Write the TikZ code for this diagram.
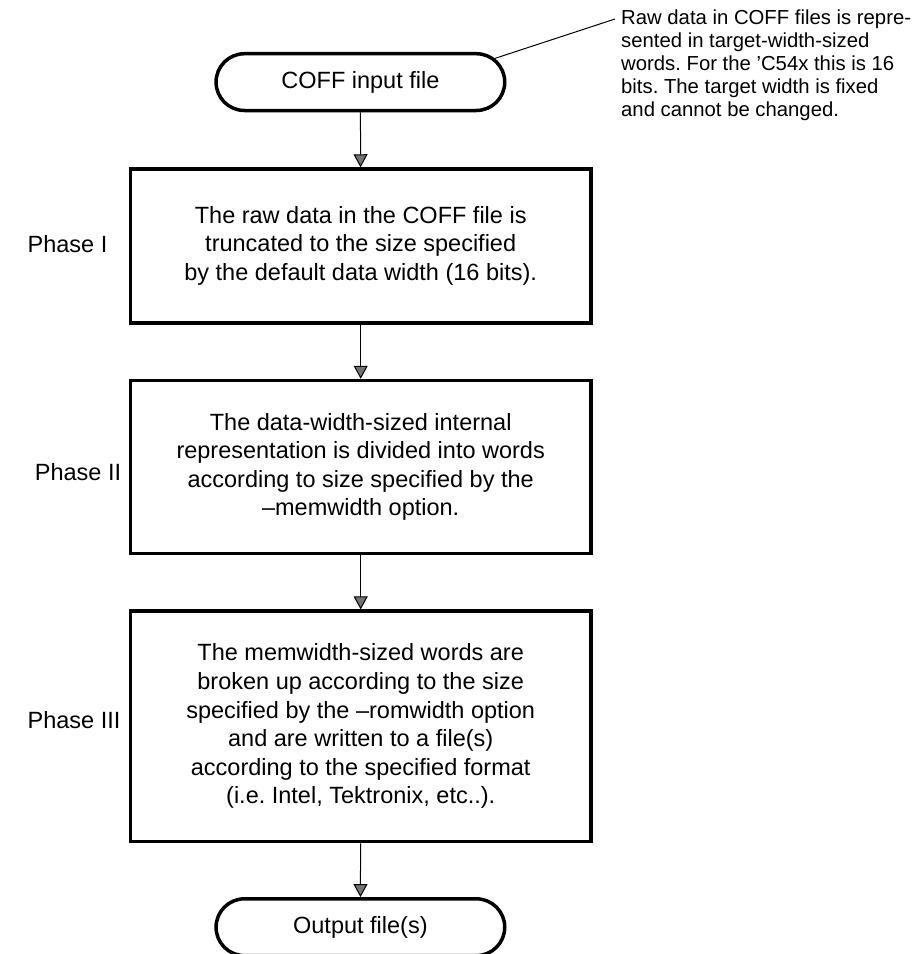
\documentclass[tikz,border=0pt]{standalone}
\usepackage{fontspec}
\setmainfont{Liberation Sans}
\frenchspacing
\usetikzlibrary{arrows.meta,shapes.misc}
\begin{document}
\begin{tikzpicture}[x=1pt,y=-1pt,
  txt/.style={font=\fontsize{23.5}{28.6}\selectfont},
  stepbox/.style={txt,draw,line width=3.5pt,minimum width=460.7pt,align=center,inner sep=0pt},
  term/.style={txt,draw,rounded rectangle,line width=3.5pt,minimum width=288.7pt,minimum height=56.8pt,inner sep=0pt},
  flow/.style={line width=1pt,-{Triangle[length=13pt,width=14pt,fill=black!55]}},
  note/.style={align=left,anchor=north west,inner sep=0pt,font=\fontsize{20.3}{23}\selectfont},
]
\useasboundingbox (0,0) rectangle (916,954);

% terminals and process boxes
\node[term] (coff) at (360.4,82.1) {COFF input file};
\node[stepbox,minimum height=153.8pt] (p1) at (360.7,245.9)
  {The raw data in the COFF file is\\truncated to the size specified\\by the default data width (16 bits).};
\node[stepbox,minimum height=172.8pt] (p2) at (360.7,466.9)
  {The data-width-sized internal\\representation is divided into words\\according to size specified by the\\–memwidth option.};
\node[stepbox,minimum height=230.5pt] (p3) at (360.7,726.4)
  {The memwidth-sized words are\\broken up according to the size\\specified by the –romwidth option\\and are written to a file(s)\\according to the specified format\\(i.e. Intel, Tektronix, etc..).};
\node[term] (out) at (360.4,927.2) {Output file(s)};

% phase labels
\node[txt] (ph1) at (67.5,244) {Phase I};
\node[txt] (ph2) at (78,472) {Phase II};
\node[txt] (ph3) at (74,720) {Phase III};

% flow arrows
\draw[flow] (coff) -- (p1);
\draw[flow] (p1) -- (p2);
\draw[flow] (p2) -- (p3);
\draw[flow] (p3) -- (out);

% annotation with its leader line
\node[note] (remark) at (621,10)
  {Raw data in COFF files is repre-\\sented in target-width-sized\\words. For the ’C54x this is 16\\bits. The target width is fixed\\and cannot be changed.};
\coordinate (lead) at (615,19);
\draw[line width=1pt] (coff.10) -- (lead);
\end{tikzpicture}
\end{document}
